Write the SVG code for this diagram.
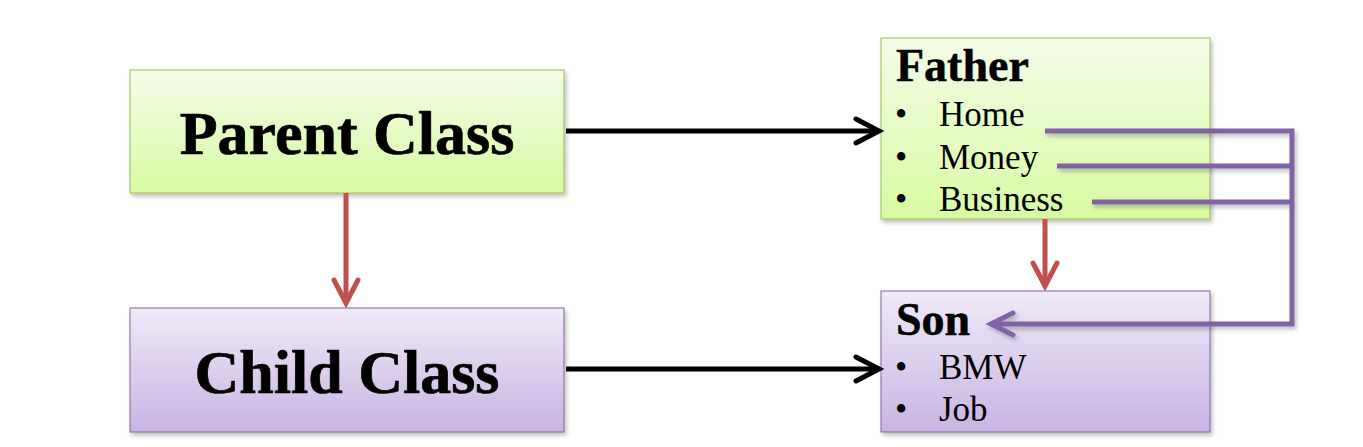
<svg xmlns="http://www.w3.org/2000/svg" width="1363" height="447" viewBox="0 0 1363 447">
<defs>
<linearGradient id="gGreen" x1="0" y1="0" x2="0" y2="1">
<stop offset="0" stop-color="#f4fce8"/>
<stop offset="1" stop-color="#d8fba2"/>
</linearGradient>
<linearGradient id="gPurple" x1="0" y1="0" x2="0" y2="1">
<stop offset="0" stop-color="#f0eaf8"/>
<stop offset="1" stop-color="#c8b4e3"/>
</linearGradient>
<filter id="sh" x="-10%" y="-10%" width="130%" height="130%">
<feDropShadow dx="2" dy="3" stdDeviation="2" flood-color="#000" flood-opacity="0.25"/>
</filter>
<marker id="aBlack" markerUnits="userSpaceOnUse" orient="auto" refX="0" refY="0" markerWidth="40" markerHeight="40" overflow="visible">
<path d="M-23,-12 L0,0 L-23,12" fill="none" stroke="#000" stroke-width="5" stroke-linecap="round" stroke-linejoin="miter"/>
</marker>
<marker id="aRed" markerUnits="userSpaceOnUse" orient="auto" refX="0" refY="0" markerWidth="40" markerHeight="40" overflow="visible">
<path d="M-23,-12 L0,0 L-23,12" fill="none" stroke="#c0504d" stroke-width="5" stroke-linecap="round"/>
</marker>
<marker id="aPurple" markerUnits="userSpaceOnUse" orient="auto" refX="0" refY="0" markerWidth="40" markerHeight="40" overflow="visible">
<path d="M-22,-11 L0,0 L-22,11" fill="none" stroke="#8064a2" stroke-width="5" stroke-linecap="round"/>
</marker>
</defs>
<style>
.green{fill:url(#gGreen);stroke:#9bbb59;stroke-width:1}
.purple{fill:url(#gPurple);stroke:#8064a2;stroke-width:1}
.big{font-family:"Liberation Serif","Times New Roman",serif;font-weight:bold;font-size:62px;fill:#000;stroke:#000;stroke-width:0.7}
.head{font-family:"Liberation Serif","Times New Roman",serif;font-weight:bold;font-size:46px;fill:#000;stroke:#000;stroke-width:0.5}
.item{font-family:"Liberation Serif","Times New Roman",serif;font-size:35px;fill:#000}
.blk{fill:none;stroke:#000;stroke-width:5}
.red{fill:none;stroke:#c0504d;stroke-width:5}
.pur{fill:none;stroke:#8064a2;stroke-width:5}
</style>
<rect width="1363" height="447" fill="#fff"/>
<g id="parent">
<rect x="130" y="70" width="434" height="123" class="green" filter="url(#sh)"/>
<text x="347" y="154" text-anchor="middle" class="big">Parent Class</text>
</g>
<g id="child">
<rect x="130" y="308" width="434" height="124" class="purple" filter="url(#sh)"/>
<text x="347" y="393" text-anchor="middle" class="big">Child Class</text>
</g>
<g id="father">
<rect x="881" y="38" width="329" height="181" class="green" filter="url(#sh)"/>
<text x="896" y="81" class="head">Father</text>
<text x="895" y="126" class="item">•</text><text x="939" y="126" class="item">Home</text>
<text x="895" y="169" class="item">•</text><text x="939" y="169" class="item">Money</text>
<text x="895" y="211" class="item">•</text><text x="939" y="211" class="item">Business</text>
</g>
<g id="son">
<rect x="881" y="291" width="329" height="141" class="purple" filter="url(#sh)"/>
<text x="896" y="335" class="head">Son</text>
<text x="895" y="379" class="item">•</text><text x="939" y="379" class="item">BMW</text>
<text x="895" y="421" class="item">•</text><text x="939" y="421" class="item">Job</text>
</g>
<g id="connectors">
<line x1="566" y1="131" x2="879" y2="131" class="blk" marker-end="url(#aBlack)"/>
<line x1="566" y1="369" x2="879" y2="369" class="blk" marker-end="url(#aBlack)"/>
<line x1="346" y1="193" x2="346" y2="303" class="red" marker-end="url(#aRed)"/>
<line x1="1045" y1="219" x2="1045" y2="286" class="red" marker-end="url(#aRed)"/>
<g filter="url(#sh)">
<polyline points="1045,131 1292,131 1292,324 991,324" class="pur" marker-end="url(#aPurple)"/>
<line x1="1057" y1="166" x2="1292" y2="166" class="pur"/>
<line x1="1092" y1="202" x2="1292" y2="202" class="pur"/>
</g>
</g>
</svg>
